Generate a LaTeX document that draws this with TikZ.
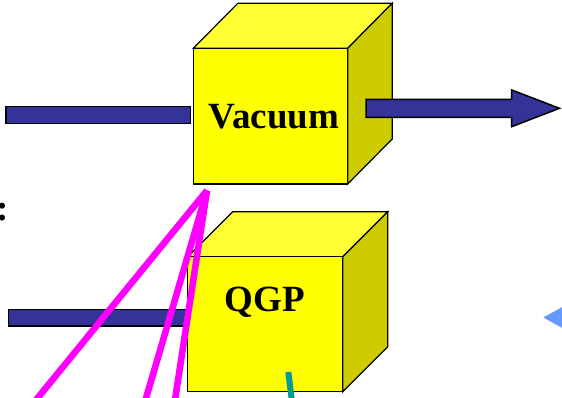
\documentclass[tikz,border=0pt]{standalone}
\usepackage{fontspec}
\setmainfont{Liberation Serif}
\definecolor{cubefront}{HTML}{FFFF00}
\definecolor{cubetop}{HTML}{FFFF33}
\definecolor{cubeside}{HTML}{CCCC00}
\definecolor{beam}{HTML}{333399}
\definecolor{pinkline}{HTML}{FF00FF}
\definecolor{tealline}{HTML}{009999}
\definecolor{lightblue}{HTML}{6699FF}
\begin{document}
\begin{tikzpicture}[x=1pt,y=-1pt,
  facefront/.style={fill=cubefront,draw=black,line width=1.2pt,line join=miter},
  facetop/.style={fill=cubetop,draw=black,line width=1.2pt,line join=miter},
  faceside/.style={fill=cubeside,draw=black,line width=1.2pt,line join=miter},
  beambar/.style={fill=beam,draw=black,line width=1.5pt,line join=miter},
  bigtext/.style={font=\fontsize{37}{40}\selectfont\bfseries,inner sep=0pt,anchor=base},
  track/.style={draw=pinkline,line width=6.6pt,line cap=butt},
  tealtrack/.style={draw=tealline,line width=6pt,line cap=butt}]
\useasboundingbox (0,0) rectangle (562,398);

% ---- Vacuum cube ----
\draw[facetop] (193.3,48.3) -- (237.8,3.3) -- (392.2,3.3) -- (347.7,48.3) -- cycle;
\draw[faceside] (347.7,48.3) -- (392.2,3.3) -- (392.2,139) -- (347.7,184) -- cycle;
\draw[facefront] (193.3,48.3) rectangle (347.7,184);
\node[bigtext] (vac) at (274,128.3) {Vacuum};

% incoming beam
\draw[beambar] (6,106.7) rectangle (190.7,123.3);
% outgoing arrow
\draw[beambar] (366,99.3) -- (511.7,99.3) -- (511.7,90) -- (559.5,108.3)
  -- (511.7,126.7) -- (511.7,117.3) -- (366,117.3) -- cycle;

% colon at left edge
\node[bigtext] (colon) at (2.7,220) {:};

% ---- QGP cube ----
\draw[beambar] (8.3,309.3) rectangle (187,326);
\draw[facetop] (187.7,256.7) -- (232.7,211.7) -- (387.7,211.7) -- (342.7,256.7) -- cycle;
\draw[faceside] (342.7,256.7) -- (387.7,211.7) -- (387.7,346.7) -- (342.7,391.7) -- cycle;
\draw[facefront] (187.7,256.7) rectangle (342.7,391.7);
\node[bigtext] (qgp) at (265,311.7) {QGP};

% magenta tracks
\coordinate (apex) at (207,190.5);
\coordinate (t1) at (36,400);
\coordinate (t2) at (145.5,400);
\coordinate (t3) at (175,400);
\draw[track] (apex) -- (t1);
\draw[track] (apex) -- (t2);
\draw[track] (apex) -- (t3);

% teal track
\coordinate (c1) at (288.3,372);
\coordinate (c2) at (291.8,400);
\draw[tealtrack] (c1) -- (c2);

% light blue arrowhead at right edge
\fill[lightblue] (543.3,317.5) -- (566,305) -- (566,330) -- cycle;
\end{tikzpicture}
\end{document}
